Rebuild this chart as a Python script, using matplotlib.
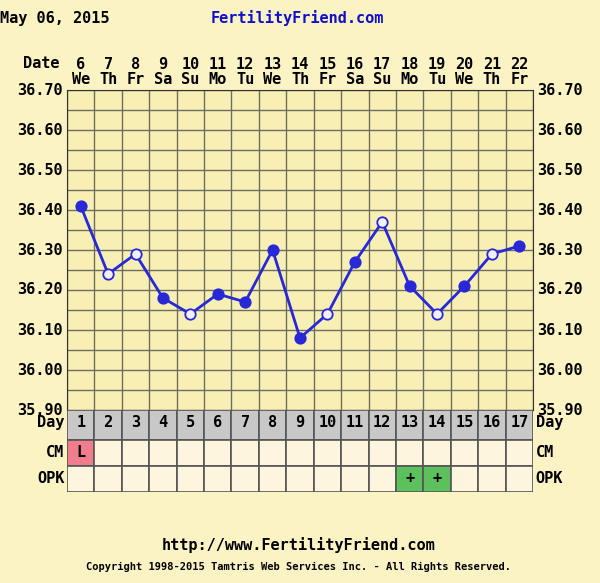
import numpy as np
import matplotlib.pyplot as plt

days = list(range(1, 18))
dates = [6, 7, 8, 9, 10, 11, 12, 13, 14, 15, 16, 17, 18, 19, 20, 21, 22]
weekdays = ["We", "Th", "Fr", "Sa", "Su", "Mo", "Tu", "We", "Th", "Fr", "Sa", "Su", "Mo", "Tu", "We", "Th", "Fr"]
temps = [36.41, 36.24, 36.29, 36.18, 36.14, 36.19, 36.17, 36.30, 36.08, 36.14, 36.27, 36.37, 36.21, 36.14, 36.21, 36.29, 36.31]
filled = [1, 0, 0, 1, 0, 1, 1, 1, 1, 0, 1, 0, 1, 0, 1, 0, 1]
cm = {1: "L"}
opk = {13: "+", 14: "+"}
yticks = [35.90, 36.00, 36.10, 36.20, 36.30, 36.40, 36.50, 36.60, 36.70]

bg = "#FBF3C3"
mono = {"family": "DejaVu Sans Mono", "weight": "bold"}
blue = "#2828D8"
fs = 11

fig = plt.figure(figsize=(6, 5.83), dpi=100, facecolor=bg)

ax = fig.add_axes([67 / 600, 1 - 410 / 583, 466 / 600, 320 / 583])
ax.set_facecolor("#F8EFB5")
ax.set_xlim(0.5, 17.5)
ax.set_ylim(35.90, 36.70)
for x in np.arange(0.5, 18, 1):
    ax.axvline(x, color="#6E6E60", lw=1)
for y in np.arange(35.90, 36.71, 0.05):
    ax.axhline(y, color="#6E6E60", lw=1)
ax.plot(days, temps, color=blue, lw=2, zorder=3)
for d, t, f in zip(days, temps, filled):
    ax.plot(d, t, "o", ms=7.5, mfc=blue if f else "#F0F0FF", mec=blue, mew=1.3, zorder=4)
ax.set_yticks(yticks)
ax.set_yticklabels([f"{v:.2f}" for v in yticks], fontdict=mono, fontsize=fs)
ax.tick_params(axis="y", length=0, pad=3, labelright=True)
for lab in ax.get_yticklabels() + ax.get_yticklabels(which="major"):
    lab.set_va("bottom")
for lab in ax.yaxis.get_majorticklabels():
    lab.set_va("center")
ax.set_xticks(days)
ax.set_xticklabels([f"{d}\n{w}" for d, w in zip(dates, weekdays)], fontdict=mono, fontsize=fs, linespacing=1.0)
ax.tick_params(axis="x", length=0, pad=2, labelbottom=False, labeltop=True)
for s in ax.spines.values():
    s.set_color("#333333")
fig.text(60 / 600, 1 - 64 / 583, "Date", ha="right", va="center", fontsize=fs, **mono)

# table of Day / CM / OPK
tb = fig.add_axes([67 / 600, 1 - 492 / 583, 466 / 600, 82 / 583])
tb.set_xlim(0.5, 17.5)
tb.set_ylim(0, 3.15)
tb.axis("off")
rows = [("Day", 2, 1.15), ("CM", 1, 1), ("OPK", 0, 1)]
for name, r, h in rows:
    yc = r + h / 2 + (0.08 if name == "Day" else 0)
    for d in days:
        fc = "#C8C8C8" if name == "Day" else "#FDF5DE"
        txt = ""
        if name == "Day":
            txt = str(d)
        elif name == "CM" and d in cm:
            fc, txt = "#F07C8C", cm[d]
        elif name == "OPK" and d in opk:
            fc, txt = "#5CC05C", opk[d]
        tb.add_patch(plt.Rectangle((d - 0.5, r), 1, h, fc=fc, ec="#555555", lw=1.2))
        tb.text(d, yc, txt, ha="center", va="center", fontsize=fs, **mono)
    tb.text(0.4, yc, name, ha="right", va="center", fontsize=fs, **mono)
    tb.text(17.6, yc, name, ha="left", va="center", fontsize=fs, **mono)

fig.text(0.0, 1 - 18 / 583, "May 06, 2015", ha="left", va="center", fontsize=fs, **mono)
fig.text(0.495, 1 - 18 / 583, "FertilityFriend.com", ha="center", va="center", fontsize=fs, color="#1010CC", **mono)
fig.text(0.497, 1 - 545 / 583, "http://www.FertilityFriend.com", ha="center", va="center", fontsize=fs, **mono)
fig.text(0.497, 1 - 567 / 583, "Copyright 1998-2015 Tamtris Web Services Inc. - All Rights Reserved.",
         ha="center", va="center", fontsize=7.5, **mono)

fig.savefig("out.png", dpi=100, facecolor=bg)
